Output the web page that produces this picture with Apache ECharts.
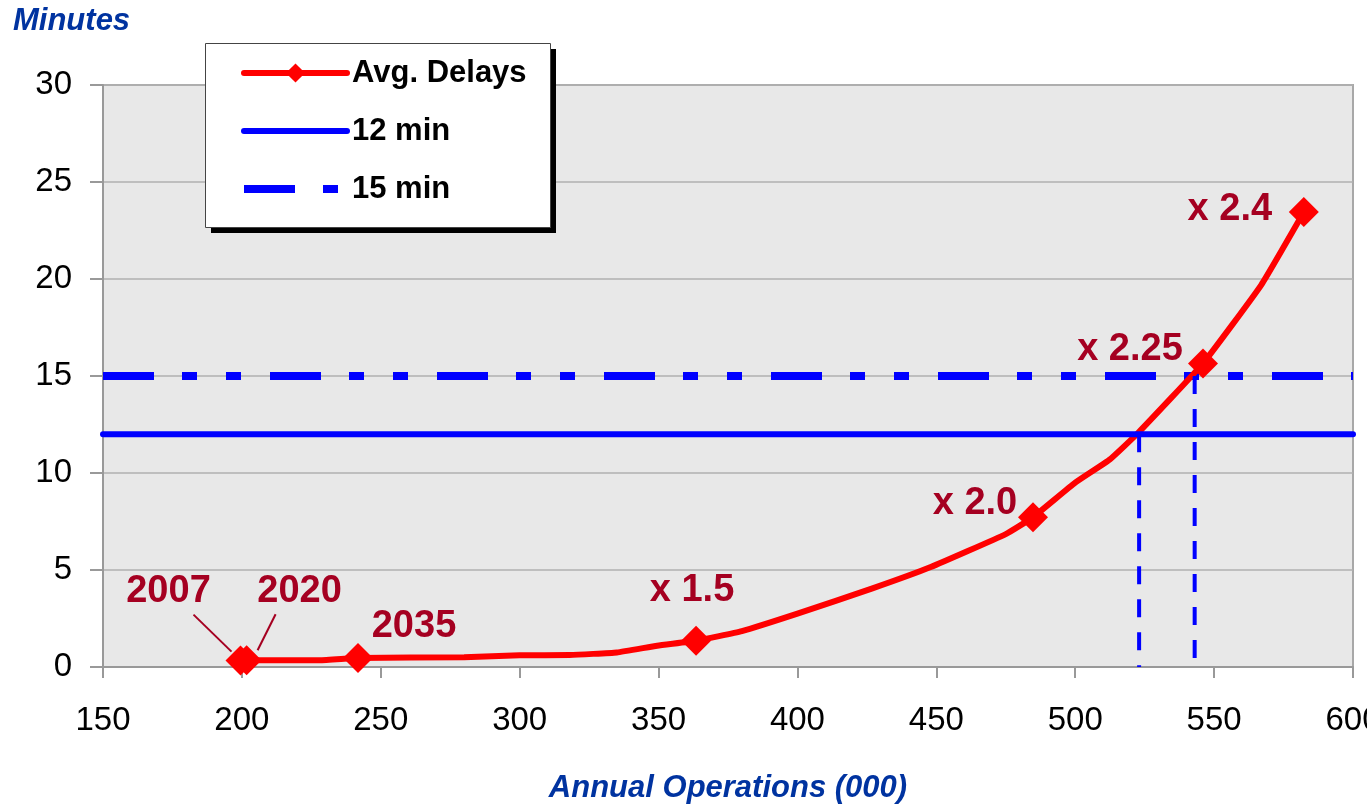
<!DOCTYPE html>
<html>
<head>
<meta charset="utf-8">
<script src="https://cdn.jsdelivr.net/npm/echarts@6/dist/echarts.min.js"></script>
<style>
  html, body { margin: 0; padding: 0; background: #ffffff; }
  #chart { width: 1367px; height: 804px; }
</style>
</head>
<body>
<div id="chart"></div>
<script>
// Annual operations (thousands) and average delay (minutes) along the delay curve
const ops    = [199.5, 201.7, 228, 241.8, 280, 300, 318, 335, 349.5, 363.5, 380, 400, 427, 448, 475, 484.8, 500, 512.5, 522.6, 546, 567, 582.3];
const delays = [0.33, 0.35, 0.35, 0.47, 0.5, 0.6, 0.62, 0.75, 1.1, 1.35, 1.85, 2.75, 4.05, 5.15, 6.85, 7.72, 9.5, 10.7, 12.06, 15.65, 19.7, 23.45];

// Points of the curve that carry a marker and a caption
const markedIndex = [0, 1, 3, 9, 15, 19, 21];
const markedText  = ['2007', '2020', '2035', 'x 1.5', 'x 2.0', 'x 2.25', 'x 2.4'];

// Delay thresholds and where the curve reaches them
const thresholdNames  = ['12 min', '15 min'];
const thresholdValues = [12, 15];
const crossingOps     = [523, 543];

// Axis ranges
const xRange = [150, 600];
const yRange = [0, 30];

// Caption placement relative to each marker (pixels)
const captionOffsets = [[-72, -69], [53, -69], [56, -31], [-4, -50], [-58, -14], [-73, -14], [-74, -3]];
// Leader lines for the two crowded captions: [marker, from dx, dy, to dx, dy]
const leaders = [[0, -47, -46, -9, -9], [1, 29, -46, 11, -10]];

// Legend frame (box with a hard drop shadow)
const legendBox = { x: 205, y: 43, w: 345, h: 184, shadow: 6 };

const FONT = '"Liberation Sans", Arial, sans-serif';
const DARK_RED = '#a50021';
const TITLE_BLUE = '#0033a0';

const curveData = ops.map(function (x, i) {
  const k = markedIndex.indexOf(i);
  if (k < 0) {
    return { value: [x, delays[i]], symbol: 'none' };
  }
  return {
    value: [x, delays[i]],
    symbol: 'diamond',
    symbolSize: 30,
    label: {
      show: true,
      position: 'inside',
      offset: captionOffsets[k],
      formatter: markedText[k],
      color: DARK_RED,
      fontFamily: FONT,
      fontWeight: 'bold',
      fontSize: 38
    }
  };
});

const hiddenSymbol = { color: 'rgba(0,0,0,0)', borderWidth: 0 };

const chart = echarts.init(document.getElementById('chart'), null, { renderer: 'canvas' });

const option = {
  animation: false,
  backgroundColor: '#ffffff',
  title: {
    text: 'Minutes',
    left: 8,
    top: 1,
    textStyle: { color: TITLE_BLUE, fontFamily: FONT, fontWeight: 'bold', fontStyle: 'italic', fontSize: 31 }
  },
  grid: {
    left: 103, right: 14, top: 85, bottom: 137,
    outerBoundsMode: 'none',
    containLabel: false,
    show: true,
    backgroundColor: '#e8e8e8',
    borderColor: '#a8a8a8',
    borderWidth: 2
  },
  graphic: [
    {
      type: 'rect', id: 'legendShadow', z: 20,
      shape: { x: legendBox.x + legendBox.shadow, y: legendBox.y + legendBox.shadow, width: legendBox.w, height: legendBox.h },
      style: { fill: '#000000' }
    },
    {
      type: 'rect', id: 'legendFrame', z: 21,
      shape: { x: legendBox.x + 0.5, y: legendBox.y + 0.5, width: legendBox.w, height: legendBox.h },
      style: { fill: '#ffffff', stroke: '#444444', lineWidth: 1 }
    }
  ],
  legend: {
    z: 30,
    orient: 'vertical',
    left: legendBox.x,
    top: legendBox.y,
    padding: [13, 22, 20, 35],
    itemGap: 24,
    itemWidth: 103,
    itemHeight: 24,
    textStyle: { color: '#000000', fontFamily: FONT, fontWeight: 'bold', fontSize: 31, lineHeight: 34 },
    data: [
      { name: 'Avg. Delays', lineStyle: { width: 6, cap: 'round' } },
      { name: thresholdNames[0], lineStyle: { width: 6, cap: 'round' }, itemStyle: hiddenSymbol },
      { name: thresholdNames[1], lineStyle: { width: 8, cap: 'butt', type: [51, 28, 15, 29] }, itemStyle: hiddenSymbol }
    ]
  },
  xAxis: {
    type: 'value',
    min: xRange[0],
    max: xRange[1],
    interval: 50,
    name: 'Annual Operations (000)',
    nameLocation: 'middle',
    nameGap: 106,
    nameTextStyle: { color: TITLE_BLUE, fontFamily: FONT, fontWeight: 'bold', fontStyle: 'italic', fontSize: 31 },
    axisLine: { show: true, onZero: false, lineStyle: { color: '#999999', width: 2 } },
    axisTick: { show: true, inside: false, length: 11, lineStyle: { color: '#999999', width: 2 } },
    axisLabel: { color: '#000000', fontFamily: FONT, fontSize: 33, margin: 37, showMaxLabel: true, hideOverlap: false },
    splitLine: { show: false }
  },
  yAxis: {
    type: 'value',
    min: yRange[0],
    max: yRange[1],
    interval: 5,
    axisLine: { show: true, lineStyle: { color: '#999999', width: 2 } },
    axisTick: { show: true, inside: false, length: 13, lineStyle: { color: '#999999', width: 2 } },
    axisLabel: { color: '#000000', fontFamily: FONT, fontSize: 33, margin: 31 },
    splitLine: { show: true, lineStyle: { color: '#b0b0b0', width: 1.5 } }
  },
  series: [
    {
      name: 'Avg. Delays',
      type: 'line',
      z: 3,
      smooth: 0.12,
      symbol: 'diamond',
      symbolSize: 30,
      showAllSymbol: true,
      color: '#ff0000',
      lineStyle: { color: '#ff0000', width: 6, cap: 'round', join: 'round' },
      itemStyle: { color: '#ff0000' },
      data: curveData
    },
    {
      name: thresholdNames[0],
      type: 'line',
      z: 4,
      symbol: 'none',
      color: '#0000ff',
      lineStyle: { color: '#0000ff', width: 6, cap: 'round' },
      data: [[xRange[0], thresholdValues[0]], [xRange[1], thresholdValues[0]]]
    },
    {
      name: thresholdNames[1],
      type: 'line',
      z: 2,
      symbol: 'none',
      color: '#0000ff',
      lineStyle: { color: '#0000ff', width: 8, type: [51, 28, 15, 29, 15, 29], cap: 'butt' },
      data: [[xRange[0], thresholdValues[1]], [xRange[1], thresholdValues[1]]]
    },
    {
      name: 'crossing12',
      type: 'line',
      z: 5,
      symbol: 'none',
      lineStyle: { color: '#0000ff', width: 4, type: [18, 15] },
      data: [[crossingOps[0], thresholdValues[0]], [crossingOps[0], 0]]
    },
    {
      name: 'crossing15',
      type: 'line',
      z: 5,
      symbol: 'none',
      lineStyle: { color: '#0000ff', width: 4, type: [18, 15] },
      data: [[crossingOps[1], thresholdValues[1]], [crossingOps[1], -0.2]],
      clip: false
    }
  ]
};

chart.setOption(option);

// Leader lines from the crowded captions to their markers
const leaderGraphics = leaders.map(function (l, n) {
  const i = markedIndex[l[0]];
  const p = chart.convertToPixel({ seriesIndex: 0 }, [ops[i], delays[i]]);
  return {
    type: 'line',
    id: 'leader' + n,
    z: 10,
    shape: { x1: p[0] + l[1], y1: p[1] + l[2], x2: p[0] + l[3], y2: p[1] + l[4] },
    style: { stroke: DARK_RED, lineWidth: 2 }
  };
});
chart.setOption({ graphic: leaderGraphics });
</script>
</body>
</html>
